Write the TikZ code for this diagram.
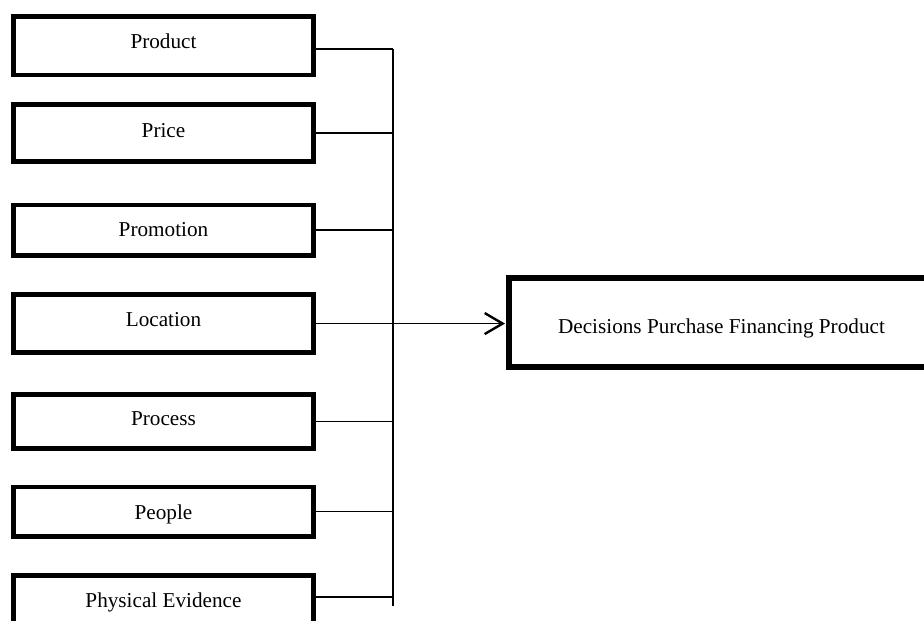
\documentclass[tikz,border=0pt]{standalone}
\usepackage{fontspec}
\setmainfont{Liberation Serif}
\usetikzlibrary{arrows.meta}
\begin{document}
\begin{tikzpicture}[x=1pt,y=-1pt,
  box/.style={draw, line width=4.8pt, minimum width=300.4pt, inner sep=0pt, anchor=center},
  bigbox/.style={draw, line width=5.5pt, inner sep=0pt},
  txt/.style={anchor=base, inner sep=0pt, font=\fontsize{21.2}{24}\selectfont},
  conn/.style={line width=1.4pt},
  arr/.style={line width=1.4pt, -{Straight Barb[length=18pt,width=21pt,line width=2.4pt]}, shorten >=1pt}]
\clip (0,0) rectangle (924,621);
% input boxes
\node[box, minimum height=58.6pt] (product) at (163.5,45.6) {};
\node[box, minimum height=56.7pt] (price) at (163.5,133.15) {};
\node[box, minimum height=50.2pt] (promotion) at (163.5,230.1) {};
\node[box, minimum height=57.9pt] (location) at (163.5,323.55) {};
\node[box, minimum height=53.4pt] (process) at (163.5,421.5) {};
\node[box, minimum height=49.5pt] (people) at (163.5,511.75) {};
\node[box, minimum height=56pt] (physical) at (163.5,603.3) {};
% labels
\node[txt] (tproduct) at (163.5,48.3) {Product};
\node[txt] (tprice) at (163.5,137.3) {Price};
\node[txt] (tpromotion) at (163.5,236.7) {Promotion};
\node[txt] (tlocation) at (163.5,326.7) {Location};
\node[txt] (tprocess) at (163.5,425) {Process};
\node[txt] (tpeople) at (163.5,519) {People};
\node[txt] (tphysical) at (163.5,607.3) {Physical Evidence};
% output box
\node[bigbox, minimum width=431.2pt, minimum height=89pt] (decision) at (724.4,322.3) {};
\node[txt] (tdecision) at (721.5,333.3) {Decisions Purchase Financing Product};
% bus
\coordinate (bustop) at (393,49);
\coordinate (busbot) at (393,606);
\draw[conn] (bustop) -- (busbot);
\draw[conn] ([yshift=-3.4pt]product.east) -- ([yshift=-3.4pt]product.east -| bustop);
\draw[conn] (price.east) -- (price.east -| bustop);
\draw[conn] (promotion.east) -- (promotion.east -| bustop);
\draw[conn] (process.east) -- (process.east -| bustop);
\draw[conn] (people.east) -- (people.east -| bustop);
\draw[conn] ([yshift=6.3pt]physical.east) -- ([yshift=6.3pt]physical.east -| bustop);
\draw[arr] (location.east) -- (location.east -| decision.west);
\end{tikzpicture}
\end{document}
